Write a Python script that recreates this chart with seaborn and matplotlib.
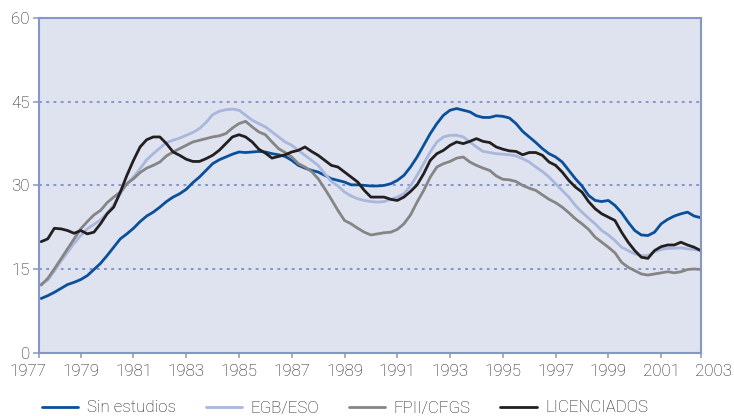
import numpy as np
import pandas as pd
import seaborn as sns
import matplotlib.pyplot as plt

# tasas trimestrales (%), desde 1977 T3 hasta 2002 T3
sin_estudios = [9.7, 10.2, 10.8, 11.5, 12.2, 12.6, 13.1, 13.8, 14.9, 16.0, 17.4, 18.9, 20.4, 21.3, 22.3, 23.5, 24.5,
                25.2, 26.1, 27.1, 27.9, 28.5, 29.3, 30.5, 31.5, 32.7, 33.9, 34.6, 35.1, 35.6, 36.0, 35.9, 36.0, 36.1,
                36.0, 35.7, 35.5, 35.2, 34.5, 33.6, 33.1, 32.7, 32.4, 31.8, 31.2, 30.9, 30.6, 30.1, 30.1, 30.0, 29.9,
                29.9, 30.0, 30.3, 30.9, 31.8, 33.3, 35.1, 37.2, 39.3, 41.1, 42.6, 43.5, 43.8, 43.5, 43.2, 42.5, 42.2,
                42.2, 42.5, 42.4, 42.1, 41.1, 39.7, 38.7, 37.7, 36.6, 35.7, 35.1, 34.2, 32.7, 31.2, 29.9, 28.2, 27.3,
                27.1, 27.3, 26.4, 25.1, 23.4, 21.9, 21.1, 21.0, 21.6, 23.1, 23.9, 24.5, 24.9, 25.2, 24.5, 24.2]
egb_eso = [12.3, 13.0, 14.6, 16.4, 18.0, 19.6, 21.0, 22.2, 23.0, 23.8, 25.0, 26.5, 28.5, 30.3, 31.5, 33.0, 34.6,
           35.7, 36.7, 37.7, 38.1, 38.5, 39.0, 39.5, 40.2, 41.3, 42.7, 43.3, 43.6, 43.7, 43.5, 42.6, 41.7, 41.1,
           40.5, 39.6, 38.7, 37.8, 37.2, 36.3, 35.4, 34.5, 33.6, 32.1, 30.7, 29.9, 28.8, 28.1, 27.6, 27.3, 27.1,
           27.0, 27.1, 27.5, 27.9, 28.5, 29.9, 31.8, 33.9, 36.0, 37.8, 38.7, 39.0, 39.0, 38.7, 37.8, 36.9, 36.1,
           35.9, 35.7, 35.6, 35.5, 35.3, 34.8, 34.2, 33.3, 32.5, 31.5, 30.3, 29.1, 27.9, 26.4, 25.2, 24.1, 23.1,
           21.9, 21.1, 20.1, 18.9, 18.3, 17.7, 17.4, 17.4, 18.1, 18.5, 18.7, 18.7, 18.8, 18.6, 18.5, 18.3]
fpii_cfgs = [12.1, 13.3, 15.0, 16.8, 18.6, 20.4, 22.2, 23.5, 24.7, 25.5, 26.9, 27.9, 28.8, 30.3, 31.2, 32.3, 33.1,
             33.6, 34.2, 35.3, 36.0, 36.6, 37.2, 37.8, 38.1, 38.4, 38.7, 38.9, 39.3, 40.3, 41.1, 41.5, 40.5, 39.6,
             39.1, 37.8, 36.6, 35.9, 35.1, 33.9, 33.3, 32.5, 31.2, 29.4, 27.5, 25.5, 23.7, 23.1, 22.3, 21.6, 21.1,
             21.3, 21.5, 21.6, 22.1, 23.1, 24.7, 27.0, 29.1, 31.5, 33.3, 33.9, 34.3, 34.9, 35.1, 34.2, 33.6, 33.1,
             32.7, 31.7, 31.1, 31.0, 30.7, 30.0, 29.5, 29.1, 28.3, 27.5, 26.9, 26.1, 25.1, 24.0, 23.1, 22.1, 20.7,
             19.8, 18.9, 17.9, 16.2, 15.3, 14.7, 14.1, 13.9, 14.1, 14.3, 14.5, 14.3, 14.5, 14.9, 15.0, 14.9]
licenciados = [19.9, 20.4, 22.3, 22.2, 21.9, 21.4, 21.9, 21.3, 21.6, 23.1, 24.9, 26.1, 28.8, 31.8, 34.5, 36.9, 38.2,
               38.7, 38.7, 37.5, 36.0, 35.4, 34.7, 34.3, 34.3, 34.8, 35.4, 36.3, 37.5, 38.7, 39.1, 38.7, 37.8, 36.5,
               35.8, 34.9, 35.2, 35.5, 36.0, 36.3, 36.9, 36.1, 35.4, 34.5, 33.6, 33.3, 32.4, 31.5, 30.6, 29.1, 27.9,
               27.9, 27.9, 27.5, 27.3, 27.9, 28.9, 30.1, 32.1, 34.5, 35.7, 36.3, 37.2, 37.8, 37.5, 37.9, 38.4, 37.9,
               37.7, 36.9, 36.5, 36.2, 36.1, 35.5, 35.9, 35.9, 35.4, 34.2, 33.6, 32.4, 30.9, 29.7, 28.8, 27.1, 25.8,
               24.9, 24.3, 23.7, 21.6, 19.8, 18.3, 17.1, 16.9, 18.3, 19.0, 19.3, 19.3, 19.8, 19.3, 18.9, 18.3]

series = ["Sin estudios", "EGB/ESO", "FPII/CFGS", "LICENCIADOS"]
colores = ["#0a4f9a", "#a9b7dc", "#858585", "#231f20"]
anios_etiqueta = list(range(1977, 2004, 2))

fecha = 1977.5 + 0.25 * np.arange(len(sin_estudios))
df = pd.DataFrame({"fecha": fecha, "Sin estudios": sin_estudios, "EGB/ESO": egb_eso,
                   "FPII/CFGS": fpii_cfgs, "LICENCIADOS": licenciados})
largo = df.melt(id_vars="fecha", var_name="serie", value_name="tasa")

sns.set_style("white")
plt.rcParams['font.family'] = ['Roboto', 'DejaVu Sans']
plt.rcParams['font.weight'] = 'light'

azul_eje = "#8796c9"
texto = "#1e1e1e"
tam = 12.2

fig = plt.figure(figsize=(7.34, 4.16), dpi=100)
ax = fig.add_axes([0.05354, 0.15264, 0.90109, 0.80337])
ax.set_facecolor("#dfe3ef")

sns.lineplot(data=largo, x="fecha", y="tasa", hue="serie", hue_order=series,
             palette=dict(zip(series, colores)), linewidth=2.0, ax=ax)

ax.set_xlim(1977.43, 2002.5)
ax.set_ylim(0, 60)
ax.set_yticks([0, 15, 30, 45, 60])
ax.set_xlabel("")
ax.set_ylabel("")

# ticks interiores + extremos del eje; 1977 y 2003 van fuera del eje
xt = [1977.43] + anios_etiqueta[1:-1] + [2002.5]
ax.set_xticks(xt)
ax.set_xticklabels([""] + [str(a) for a in anios_etiqueta[1:-1]] + [""])
for a in (anios_etiqueta[0], anios_etiqueta[-1]):
    ax.annotate(str(a), xy=(a, 0), xycoords=("data", "axes fraction"),
                xytext=(0, -8.6), textcoords="offset points", ha="center", va="top",
                fontsize=tam, color=texto, annotation_clip=False)

ax.tick_params(axis="x", direction="out", length=3.6, width=1.1, color=azul_eje,
               pad=5.0, labelsize=tam, labelcolor=texto)
ax.tick_params(axis="y", direction="out", length=4.5, width=1.1, color=azul_eje,
               pad=2.2, labelsize=tam, labelcolor=texto)
ax.tick_params(bottom=True, left=True)

ax.yaxis.grid(True, color="#7f8fc6", linestyle=(0, (1.6, 2.4)), linewidth=1.3)
ax.xaxis.grid(False)
ax.set_axisbelow(True)

for s in ax.spines.values():
    s.set_visible(True)
    s.set_color(azul_eje)
    s.set_linewidth(1.5)

handles, labels = ax.get_legend_handles_labels()
ax.legend(handles, labels, loc="center left", bbox_to_anchor=(42 / 734, 1 - 408 / 416),
          bbox_transform=fig.transFigure, ncol=4, frameon=False, fontsize=tam,
          handlelength=2.15, handletextpad=0.5, columnspacing=1.75, borderpad=0,
          borderaxespad=0, labelcolor=texto)

fig.savefig("out.png", dpi=100)
